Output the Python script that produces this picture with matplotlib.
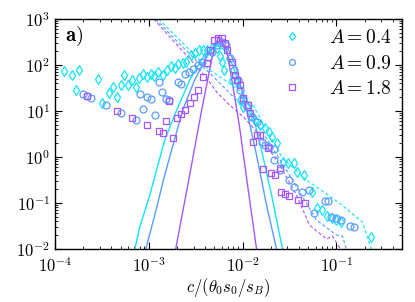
import numpy as np
import matplotlib
matplotlib.use("Agg")
import matplotlib.pyplot as plt

plt.rcParams['mathtext.fontset'] = 'cm'
plt.rcParams['font.family'] = 'serif'
plt.rcParams['font.serif'] = ['cmr10', 'DejaVu Serif']
plt.rcParams['axes.formatter.use_mathtext'] = True

# values, as log10 of (c, P)
diam_lc = [-3.904, -3.819, -3.745, -3.777, -3.543, -3.500, -3.426, -3.383, -3.340, -3.298,
           -3.266, -3.223, -3.181, -3.138, -3.106, -3.064, -3.021, -2.979, -2.947, -2.904,
           -2.851, -2.809, -2.766, -2.723, -2.691, -2.638, -2.606, -2.553, -2.511, -2.468,
           -2.426, -2.383, -2.330, -2.277, -2.245, -2.223, -2.202, -2.117, -2.064, -2.032,
           -2.000, -1.926, -1.872, -1.819, -1.766, -1.713, -1.681, -1.628, -1.574, -1.521,
           -1.457, -1.415, -1.340, -1.255, -1.202, -1.149, -1.096, -1.043, -1.000, -0.947,
           -0.628]
diam_ly = [1.870, 1.783, 1.891, 1.457, 1.696, 1.174, 1.391, 1.522, 1.304, 1.565,
           1.783, 1.565, 1.674, 1.522, 1.717, 1.804, 1.739, 1.804, 1.761, 1.848,
           1.783, 1.891, 1.978, 1.935, 2.022, 2.043, 2.065, 2.217, 2.261, 2.326,
           2.326, 2.326, 2.370, 2.370, 2.196, 2.065, 1.891, 1.674, 1.630, 1.239,
           1.087, 0.913, 0.804, 0.696, 0.630, 0.543, 0.435, 0.304, -0.109, -0.130,
           -0.130, -0.326, -0.391, -0.761, -1.109, -1.152, -1.283, -1.326, -1.370, -1.413,
           -1.739]

circ_lc = [-3.702, -3.660, -3.617, -3.457, -3.298, -3.138, -3.096, -3.064, -3.021, -2.979,
           -2.936, -2.894, -2.862, -2.819, -2.787, -2.691, -2.660, -2.617, -2.574, -2.532,
           -2.479, -2.436, -2.372, -2.330, -2.277, -2.223, -2.181, -2.138, -2.096, -2.053,
           -2.032, -2.000, -1.957, -1.904, -1.851, -1.798, -1.766, -1.713, -1.660, -1.660,
           -1.606, -1.500, -1.447, -1.362, -1.287, -1.234, -1.117, -1.085, -1.053, -1.000,
           -0.947, -0.851, -0.809]
circ_ly = [1.370, 1.326, 1.283, 1.130, 0.957, 0.804, 1.370, 1.043, 1.304, 1.261,
           0.913, 1.630, 1.413, 1.261, 1.239, 1.630, 1.587, 1.804, 1.848, 1.913,
           2.000, 2.065, 2.174, 2.283, 2.435, 2.500, 2.435, 2.152, 1.891, 1.674,
           1.457, 1.239, 1.087, 0.870, 0.761, 0.326, 0.261, 0.217, 0.174, -0.065,
           -0.283, -0.500, -0.652, -0.761, -0.717, -1.217, -0.957, -0.957, -1.304, -1.326,
           -1.370, -1.500, -1.522]

sq_lc = [-3.660, -3.340, -3.181, -3.021, -2.894, -2.851, -2.819, -2.745, -2.787, -2.702,
         -2.660, -2.617, -2.564, -2.521, -2.479, -2.426, -2.383, -2.351, -2.309, -2.266,
         -2.223, -2.191, -2.170, -2.117, -2.085, -2.064, -2.032, -2.000, -1.947, -1.926,
         -1.894, -1.851, -1.819, -1.734, -1.787, -1.702, -1.649, -1.606, -1.585, -1.543,
         -1.500, -1.404, -1.330]
sq_ly = [1.326, 1.000, 0.848, 0.696, 0.565, 0.522, 0.783, 0.413, 1.217, 0.848,
         0.935, 1.022, 1.174, 1.304, 1.457, 1.739, 2.043, 2.326, 2.543, 2.587,
         2.587, 2.478, 2.326, 2.065, 1.783, 1.674, 1.565, 1.283, 1.130, 0.957,
         0.326, 0.478, 0.478, 0.196, -0.261, -0.348, -0.391, -0.239, -0.761, -0.804,
         -0.848, -0.935, -1.000]

# solid curves
cy_sol_lc = [-3.149, -3.096, -2.989, -2.830, -2.702, -2.564, -2.426, -2.330, -2.266, -2.191,
             -2.106, -2.011, -1.904, -1.798, -1.691, -1.574]
cy_sol_ly = [-2.0, -1.522, -0.826, 0.370, 1.022, 1.674, 2.152, 2.370, 2.413, 2.326,
             2.0, 1.457, 1.022, 0.152, -0.826, -2.0]
bl_sol_lc = [-3.032, -2.936, -2.830, -2.638, -2.511, -2.383, -2.298, -2.245, -2.160, -2.074,
             -1.957, -1.851, -1.745, -1.638]
bl_sol_ly = [-2.0, -1.261, -0.391, 1.022, 1.674, 2.174, 2.435, 2.500, 2.370, 2.0,
             1.022, 0.043, -1.043, -2.0]
pu_sol_lc = [-2.713, -2.574, -2.436, -2.330, -2.255, -2.170, -2.096, -2.032, -1.947, -1.851]
pu_sol_ly = [-2.0, -0.5, 1.022, 2.109, 2.630, 2.326, 1.457, 0.652, -0.609, -2.0]

# dashed curves
cy_das_lc = [-2.894, -2.670, -2.479, -2.351, -2.191, -2.000, -1.872, -1.713, -1.574, -1.319,
             -0.968, -0.723, -0.628]
cy_das_ly = [3.0, 2.543, 2.152, 1.891, 1.674, 1.391, 1.065, 0.478, -0.022, -0.5,
             -1.0, -1.413, -2.0]
bl_das_lc = [-2.926, -2.713, -2.500, -2.351, -2.223, -2.085, -1.926, -1.734, -1.500, -1.340,
             -1.213, -1.000, -0.936, -0.894]
bl_das_ly = [3.0, 2.543, 2.109, 1.826, 1.565, 1.283, 0.978, 0.370, -0.391, -0.935,
             -1.370, -1.696, -1.717, -2.0]
pu_das_lc = [-2.947, -2.745, -2.532, -2.383, -2.277, -2.138, -1.979, -1.819, -1.606, -1.426,
             -1.287, -1.106, -1.043, -0.957]
pu_das_ly = [3.0, 2.543, 2.065, 1.717, 1.413, 1.130, 0.848, 0.478, -0.174, -0.826,
             -1.478, -1.783, -1.717, -2.0]

c_cyan = '#10e6f5'
c_blue = '#5a9cff'
c_purp = '#a755ff'

def p(v):
    return 10 ** np.array(v)

fig = plt.figure(figsize=(4.15, 3.02), dpi=100)
ax = fig.add_axes([0.1325, 0.1755, 0.836, 0.7615])

ax.plot(p(cy_sol_lc), p(cy_sol_ly), '-', color=c_cyan, lw=1.0)
ax.plot(p(bl_sol_lc), p(bl_sol_ly), '-', color=c_blue, lw=1.0)
ax.plot(p(pu_sol_lc), p(pu_sol_ly), '-', color=c_purp, lw=1.0)
ax.plot(p(cy_das_lc), p(cy_das_ly), '--', color=c_cyan, lw=0.8, dashes=(3, 2))
ax.plot(p(bl_das_lc), p(bl_das_ly), '--', color=c_blue, lw=0.8, dashes=(3, 2))
ax.plot(p(pu_das_lc), p(pu_das_ly), '--', color=c_purp, lw=0.8, dashes=(3, 2))

ax.plot(p(diam_lc), p(diam_ly), 'd', ls='none', mfc='none', mec=c_cyan, ms=5.2, mew=0.9,
        label=r'$A=0.4$')
ax.plot(p(circ_lc), p(circ_ly), 'o', ls='none', mfc='none', mec=c_blue, ms=5, mew=0.9,
        label=r'$A=0.9$')
ax.plot(p(sq_lc), p(sq_ly), 's', ls='none', mfc='none', mec=c_purp, ms=5, mew=0.9,
        label=r'$A=1.8$')

ax.set_xscale('log')
ax.set_yscale('log')
ax.set_xlim(1e-4, 0.5)
ax.set_ylim(1e-2, 1e3)
ax.tick_params(which='both', direction='in', top=True, right=True, labelsize=12)
ax.tick_params(which='major', length=5, width=0.8)
ax.tick_params(which='minor', length=2.5, width=0.6)
ax.tick_params(axis='x', which='major', pad=5)
for s in ax.spines.values():
    s.set_linewidth(1.0)

ax.set_xlabel(r'$c/(\theta_0 s_0/s_B)$', fontsize=12, labelpad=1)
ax.text(0.03, 0.975, r'$\mathbf{a)}$', transform=ax.transAxes, fontsize=15,
        va='top', ha='left')
ax.legend(loc='upper right', frameon=False, fontsize=14, handletextpad=1.3,
          labelspacing=0.4, borderaxespad=0.1, handlelength=1.2, markerscale=0.85)

fig.savefig('out.png', dpi=100)
